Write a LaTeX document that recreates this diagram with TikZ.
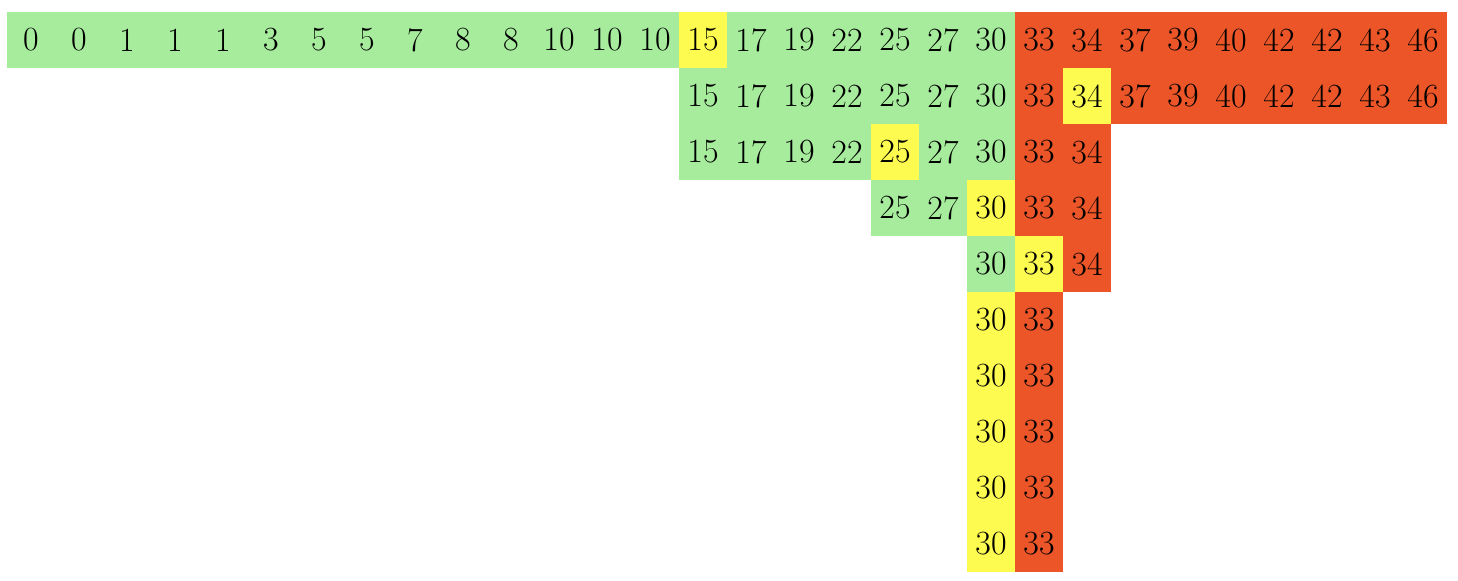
\documentclass[tikz,border=0pt]{standalone}
\usepackage{fontspec}
\usepackage{tikz}
\definecolor{lowgreen}{HTML}{A6EC9C}
\definecolor{pivot}{HTML}{FDFB4F}
\definecolor{highred}{HTML}{EC5527}

\begin{document}
\begin{tikzpicture}[x=48bp,y=56bp,
    cell/.style={minimum width=48.6bp,minimum height=56.6bp,inner sep=0pt,
                 font=\fontsize{34}{40}\selectfont}]
  \useasboundingbox (-0.1458,0.2143) rectangle (30.229,-10.143); % margins
  % row / first column / pivot column / values
  \foreach \r/\s/\p/\vals in {
      0/0/14/{0,0,1,1,1,3,5,5,7,8,8,10,10,10,15,17,19,22,25,27,30,33,34,37,39,40,42,42,43,46},
      1/14/22/{15,17,19,22,25,27,30,33,34,37,39,40,42,42,43,46},
      2/14/18/{15,17,19,22,25,27,30,33,34},
      3/18/20/{25,27,30,33,34},
      4/20/21/{30,33,34},
      5/20/20/{30,33},
      6/20/20/{30,33},
      7/20/20/{30,33},
      8/20/20/{30,33},
      9/20/20/{30,33}} {
    \foreach \v [count=\k from 0] in \vals {
      \pgfmathtruncatemacro\i{\s+\k}
      \ifnum\i<21 \def\c{lowgreen}\else\def\c{highred}\fi % left / right part
      \ifnum\i=\p \def\c{pivot}\fi                      % pivot
      \node[cell,fill=\c] (r\r c\i) at (\i+0.5,-\r-0.5) {\v};
    }
  }
\end{tikzpicture}
\end{document}
